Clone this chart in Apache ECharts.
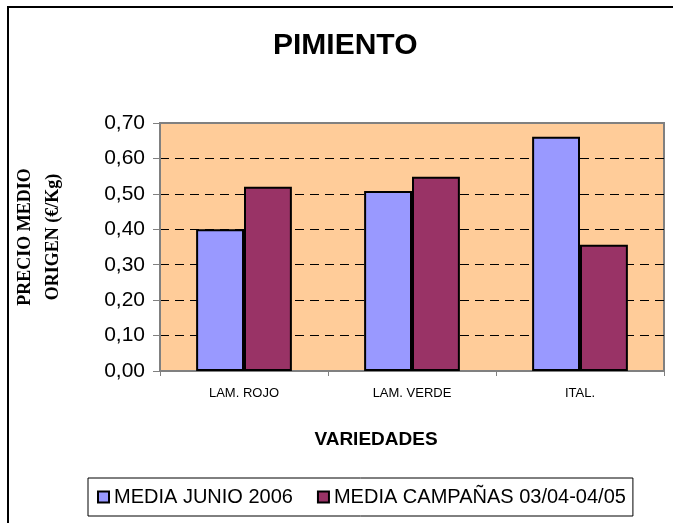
<!DOCTYPE html>
<html>
<head>
<meta charset="utf-8">
<script src="https://cdn.jsdelivr.net/npm/echarts@6/dist/echarts.min.js"></script>
<style>
  html, body { margin: 0; padding: 0; background: #fff; }
  #main { width: 673px; height: 523px; }
</style>
</head>
<body>
<div id="main"></div>
<script>
// datos del grafico (precio medio origen, euros/kg)
var variedades = ['LAM. ROJO', 'LAM. VERDE', 'ITAL.'];
var mediaJunio = [0.40, 0.508, 0.661];
var mediaCampanas = [0.52, 0.548, 0.356];
var serieNombres = ['MEDIA JUNIO 2006', 'MEDIA CAMPAÑAS 03/04-04/05'];
var yTicks = [0, 0.1, 0.2, 0.3, 0.4, 0.5, 0.6, 0.7];

var chart = echarts.init(document.getElementById('main'));

var sans = '"Liberation Sans", Arial, sans-serif';
var serif = '"Liberation Serif", "Times New Roman", serif';

// lineas de la rejilla: la de arriba no se ve (coincide con el borde)
var gridColors = yTicks.map(function (v, i) {
  return i === yTicks.length - 1 ? 'rgba(0,0,0,0)' : '#000';
});

var option = {
  animation: false,
  backgroundColor: '#fff',
  title: {
    text: 'PIMIENTO',
    left: 273,
    top: 31,
    padding: 0,
    textStyle: { fontFamily: sans, fontSize: 30, fontWeight: 'bold', color: '#000' }
  },
  legend: {
    data: serieNombres,
    left: 88,
    top: 478,
    padding: [9, 7, 9, 9],
    itemGap: 24,
    itemWidth: 11,
    itemHeight: 11,
    icon: 'rect',
    borderColor: '#000',
    borderWidth: 1,
    textStyle: { fontFamily: sans, fontSize: 20, color: '#000' }
  },
  grid: {
    left: 160,
    right: 9,
    top: 123,
    bottom: 152,
    show: true,
    backgroundColor: '#FFCC99',
    borderColor: '#808080',
    borderWidth: 2
  },
  xAxis: {
    type: 'category',
    data: variedades,
    axisLine: { lineStyle: { color: '#808080', width: 2 } },
    axisTick: { show: true, length: 5, alignWithLabel: false, lineStyle: { color: '#808080' } },
    axisLabel: { fontFamily: sans, fontSize: 13, color: '#000', margin: 16 }
  },
  yAxis: {
    type: 'value',
    min: 0,
    max: 0.7,
    interval: 0.1,
    axisLine: { show: true, lineStyle: { color: '#808080', width: 2 } },
    axisTick: { show: true, length: 7, lineStyle: { color: '#808080' } },
    axisLabel: {
      fontFamily: sans, fontSize: 21, color: '#000', margin: 15,
      formatter: function (v) { return v.toFixed(2).replace('.', ','); }
    },
    splitLine: { show: true, lineStyle: { color: gridColors, type: [9, 6], width: 1 } }
  },
  series: [{
    name: serieNombres[0],
    type: 'bar',
    data: mediaJunio,
    barGap: '0%',
    barCategoryGap: '43%',
    itemStyle: { color: '#9999FF', borderColor: '#000', borderWidth: 2 }
  }, {
    name: serieNombres[1],
    type: 'bar',
    data: mediaCampanas,
    itemStyle: { color: '#993366', borderColor: '#000', borderWidth: 2 }
  }],
  graphic: [{
    // marco exterior del grafico
    type: 'rect',
    shape: { x: 8, y: 7, width: 720, height: 600 },
    style: { fill: 'none', stroke: '#000', lineWidth: 2 },
    silent: true
  }, {
    type: 'text',
    x: 39,
    y: 237,
    rotation: Math.PI / 2,
    style: {
      text: 'PRECIO MEDIO\nORIGEN (€/Kg)',
      font: 'bold 18px ' + serif,
      fill: '#000',
      align: 'center',
      verticalAlign: 'middle',
      lineHeight: 28
    }
  }, {
    type: 'text',
    x: 376,
    y: 440,
    style: {
      text: 'VARIEDADES',
      font: 'bold 19px ' + sans,
      fill: '#000',
      align: 'center',
      verticalAlign: 'middle'
    }
  }]
};

chart.setOption(option);
</script>
</body>
</html>
